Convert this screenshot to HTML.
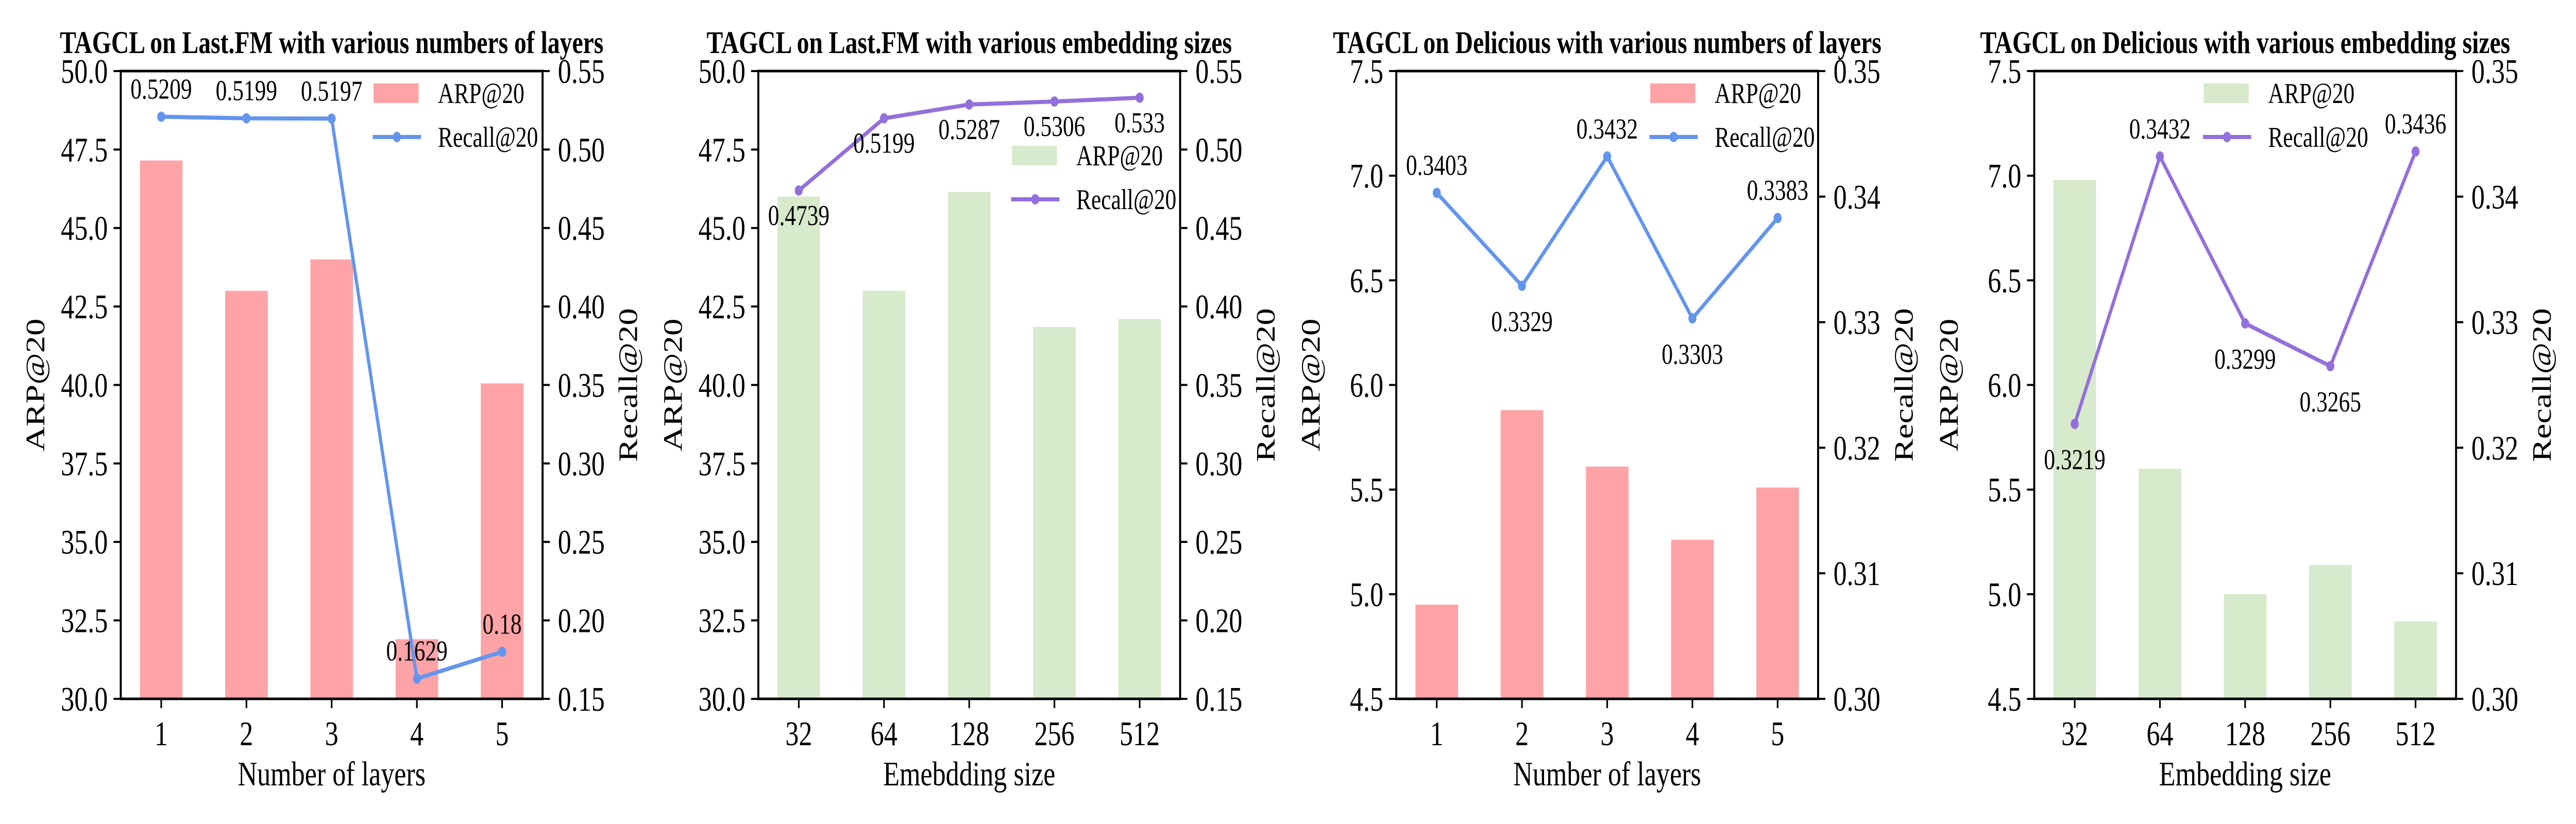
<!DOCTYPE html>
<html><head><meta charset="utf-8">
<style>
html,body{margin:0;padding:0;background:#fff;overflow:hidden;width:100vw;height:100vh;}
svg{display:block;width:100vw;height:100vh;}
text{font-family:"Liberation Serif","DejaVu Serif",serif;}
</style></head>
<body>
<svg id="fig" viewBox="0 0 6400 1600" preserveAspectRatio="none" xmlns="http://www.w3.org/2000/svg" font-family="Liberation Serif, serif"></svg>
<script>
// ---- data ----
const layerCats = ["1","2","3","4","5"];
const embCats = ["32","64","128","256","512"];
const lastfmLayerARP = [47.15, 43.0, 44.0, 31.9, 40.05];
const lastfmLayerRecall = [0.5209, 0.5199, 0.5197, 0.1629, 0.18];
const lastfmEmbARP = [46.0, 43.0, 46.15, 41.85, 42.1];
const lastfmEmbRecall = [0.4739, 0.5199, 0.5287, 0.5306, 0.533];
const deliciousLayerARP = [4.95, 5.88, 5.61, 5.26, 5.51];
const deliciousLayerRecall = [0.3403, 0.3329, 0.3432, 0.3303, 0.3383];
const deliciousEmbARP = [6.98, 5.60, 5.00, 5.14, 4.87];
const deliciousEmbRecall = [0.3219, 0.3432, 0.3299, 0.3265, 0.3436];
const lastfmARPTicks = [30.0, 32.5, 35.0, 37.5, 40.0, 42.5, 45.0, 47.5, 50.0];
const lastfmRecallTicks = [0.15, 0.20, 0.25, 0.30, 0.35, 0.40, 0.45, 0.50, 0.55];
const deliciousARPTicks = [4.5, 5.0, 5.5, 6.0, 6.5, 7.0, 7.5];
const deliciousRecallTicks = [0.30, 0.31, 0.32, 0.33, 0.34, 0.35];
const p1LabelPos = ["above","above","above","above","above"];
const p2LabelPos = ["below","below","below","below","below"];
const p3LabelPos = ["above","below","above","below","above"];
const p4LabelPos = ["below","above","below","below","above"];

const NS = "http://www.w3.org/2000/svg";
const svg = document.getElementById("fig");
const FONT = '"Liberation Serif", "DejaVu Serif", serif';
function mk(tag, attrs, parent){
  const e = document.createElementNS(NS, tag);
  for (const k in attrs) e.setAttribute(k, attrs[k]);
  if (tag === "text") e.style.fontFamily = FONT;
  (parent||svg).appendChild(e);
  return e;
}

const panels = [
  {L:300, title:"TAGCL on Last.FM with various numbers of layers", cats:layerCats, arp:lastfmLayerARP, rec:lastfmLayerRecall,
   arpTicks:lastfmARPTicks, recTicks:lastfmRecallTicks, arpDec:1, recDec:2, bar:"#ffa3a7", line:"#6495ed",
   xlabel:"Number of layers", pos:p1LabelPos, legend:{x:928, y:162}},
  {L:1884, title:"TAGCL on Last.FM with various embedding sizes", cats:embCats, arp:lastfmEmbARP, rec:lastfmEmbRecall,
   arpTicks:lastfmARPTicks, recTicks:lastfmRecallTicks, arpDec:1, recDec:2, bar:"#d7eacc", line:"#9370db",
   xlabel:"Emebdding size", pos:p2LabelPos, below:48, legend:{x:2514, y:283}},
  {L:3469, title:"TAGCL on Delicious with various numbers of layers", cats:layerCats, arp:deliciousLayerARP, rec:deliciousLayerRecall,
   arpTicks:deliciousARPTicks, recTicks:deliciousRecallTicks, arpDec:1, recDec:2, bar:"#ffa3a7", line:"#6495ed",
   xlabel:"Number of layers", pos:p3LabelPos, legend:{x:4100, y:162}},
  {L:5054, title:"TAGCL on Delicious with various embedding sizes", cats:embCats, arp:deliciousEmbARP, rec:deliciousEmbRecall,
   arpTicks:deliciousARPTicks, recTicks:deliciousRecallTicks, arpDec:1, recDec:2, bar:"#d7eacc", line:"#9370db",
   xlabel:"Embedding size", pos:p4LabelPos, legend:{x:5475, y:162}}
];

const W = 1048, T = 138, B = 1357;
panels.forEach((p, pi) => {
  const g = mk("g", {});
  
  
  const L = p.L, R = L + W;
  const aMin = p.arpTicks[0], aMax = p.arpTicks[p.arpTicks.length-1];
  const rMin = p.recTicks[0], rMax = p.recTicks[p.recTicks.length-1];
  const xs = i => L + (i + 0.475) / 4.95 * W;
  const ya = v => B - (v - aMin) / (aMax - aMin) * (B - T);
  const yr = v => B - (v - rMin) / (rMax - rMin) * (B - T);

  p.arp.forEach((v, i) => {
    const bw = 0.5 / 4.95 * W;
    const r = mk("rect", {x: xs(i) - bw/2, y: ya(v), width: bw, height: B - ya(v), fill: p.bar}, g);
    
    
  });
  const pts = p.rec.map((v, i) => xs(i) + "," + yr(v)).join(" ");
  const pl = mk("polyline", {points: pts, fill: "none", stroke: p.line, "stroke-width": 8, "stroke-linejoin": "round"}, g);
  
  
  p.rec.forEach((v, i) => {
    const c = mk("circle", {cx: xs(i), cy: yr(v), r: 10, fill: p.line}, g);
    
    
    const above = p.pos[i] === "above";
    const off = above ? -54 : (p.below || 69);
    const t = mk("text", {x: xs(i), y: yr(v) + off + 19, "font-size": 55.6, "text-anchor": "middle", fill: "#000"}, g);
    t.textContent = String(v);
    
    
  });
  const fr = mk("rect", {x: L, y: T, width: W, height: B - T, fill: "none", stroke: "#000", "stroke-width": 5}, g);
  
  
  p.arpTicks.forEach(v => {
    mk("line", {x1: L - 18, x2: L, y1: ya(v), y2: ya(v), stroke: "#000", "stroke-width": 4}, g);
    const t = mk("text", {x: L - 32, y: ya(v) + 23, "font-size": 66.7, "text-anchor": "end"}, g);
    t.textContent = v.toFixed(p.arpDec);
    
    
  });
  p.recTicks.forEach(v => {
    mk("line", {x1: R, x2: R + 18, y1: yr(v), y2: yr(v), stroke: "#000", "stroke-width": 4}, g);
    const t = mk("text", {x: R + 38, y: yr(v) + 23, "font-size": 66.7, "text-anchor": "start"}, g);
    t.textContent = v.toFixed(p.recDec);
    
    
  });
  p.cats.forEach((c, i) => {
    mk("line", {x1: xs(i), x2: xs(i), y1: B, y2: B + 18, stroke: "#000", "stroke-width": 4}, g);
    const t = mk("text", {x: xs(i), y: B + 90, "font-size": 66.7, "text-anchor": "middle"}, g);
    t.textContent = c;
    
    
  });
  const tt = mk("text", {x: L + W/2, y: 103, "font-size": 61, "font-weight": "bold", "text-anchor": "middle"}, g);
  tt.textContent = p.title;
  
  
  const xl = mk("text", {x: L + W/2, y: 1525, "font-size": 66.7, "text-anchor": "middle"}, g);
  xl.textContent = p.xlabel;
  
  
  const ymid = (T + B) / 2;
  const yl = mk("text", {x: L - 190, y: ymid, "font-size": 66.7, "text-anchor": "middle", transform: `rotate(-90 ${L-190} ${ymid})`}, g);
  yl.textContent = "ARP@20";
  
  
  const yr2 = mk("text", {x: R + 235, y: ymid, "font-size": 66.7, "text-anchor": "middle", transform: `rotate(-90 ${R+235} ${ymid})`}, g);
  yr2.textContent = "Recall@20";
  
  
  const lg = mk("g", {}, g);
  
  
  const lx = p.legend.x, ly = p.legend.y;
  mk("rect", {x: lx, y: ly, width: 112, height: 38, fill: p.bar}, lg);
  const l1 = mk("text", {x: lx + 160, y: ly + 38, "font-size": 55.6}, lg);
  l1.textContent = "ARP@20";
  
  
  mk("line", {x1: lx - 2, x2: lx + 118, y1: ly + 104, y2: ly + 104, stroke: p.line, "stroke-width": 8}, lg);
  mk("circle", {cx: lx + 58, cy: ly + 104, r: 10, fill: p.line}, lg);
  const l2 = mk("text", {x: lx + 160, y: ly + 123, "font-size": 55.6}, lg);
  l2.textContent = "Recall@20";
  
  
});
</script>
</body></html>
